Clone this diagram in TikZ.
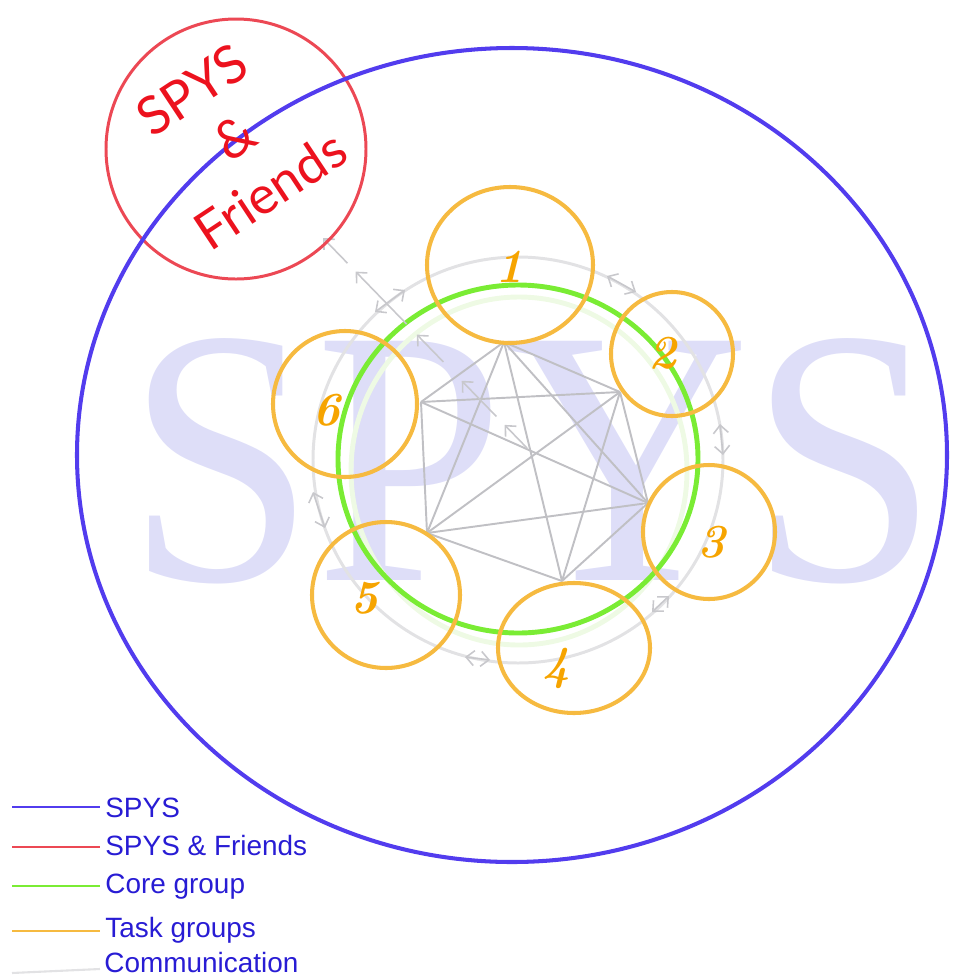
\documentclass[tikz,border=0pt]{standalone}
\usepackage{fontspec}
\usepackage{tikz}
\usetikzlibrary{calc,arrows.meta}
\newfontfamily\legendfont{Liberation Sans}
\newfontfamily\friendsfont{Lato}
\newfontfamily\markfont{Liberation Serif}
\definecolor{spysblue}{RGB}{82,60,238}
\definecolor{friendred}{RGB}{236,72,84}
\definecolor{friendtext}{RGB}{236,18,30}
\definecolor{coregreen}{RGB}{122,236,52}
\definecolor{faintgreen}{RGB}{238,250,228}
\definecolor{taskorange}{RGB}{246,186,64}
\definecolor{digitorange}{RGB}{246,164,0}
\definecolor{linkgray}{RGB}{192,192,196}
\definecolor{commgray}{RGB}{200,200,204}
\definecolor{ringgray}{RGB}{226,226,228}
\definecolor{markblue}{RGB}{222,222,248}
\definecolor{legendblue}{RGB}{40,28,212}
\tikzset{>={Straight Barb[length=1.6mm,width=3mm]}}

\begin{document}
\begin{tikzpicture}[x=0.02cm,y=-0.02cm,
      % define styles
      spys/.style={draw=spysblue,line width=2.3pt},
      friends/.style={draw=friendred,line width=1.7pt},
      core/.style={draw=coregreen,line width=2.8pt},
      task/.style={draw=taskorange,line width=2.3pt},
      link/.style={draw=linkgray,line width=1.1pt},
      comm/.style={draw=commgray,line width=0.9pt},
      digit/.style={text=digitorange,font=\fontsize{27pt}{27pt}\selectfont\bfseries\itshape},
      redtext/.style={text=friendtext,rotate=33.5,inner sep=0,
           font=\friendsfont\fontsize{30pt}{30pt}\selectfont},
      keytext/.style={text=legendblue,anchor=base west,inner sep=0,
           font=\legendfont\fontsize{15.9pt}{15.9pt}\selectfont},
      keyline/.style={line width=1.2pt}
  ]
  \useasboundingbox (0,0) rectangle (954,978);
  % Watermark
  \node[inner sep=0,anchor=base west,text=markblue] (mark) at (126,580)
      {\markfont\fontsize{208pt}{208pt}\selectfont\scalebox{0.93}[1]{SPYS}};
  % Communication ring and core group
  \coordinate (ring) at (518,460);
  \draw[draw=ringgray,line width=1.7pt] (ring) ellipse [x radius=205, y radius=203];
  \draw[draw=faintgreen,line width=2.8pt] (519,471) ellipse [x radius=168, y radius=174];
  \draw[core] (518,459) ellipse [x radius=180, y radius=174];
  % Links inside the core group
  \foreach \n/\x/\y in {1/504/342, 2/620/392, 3/648/503, 4/562/581, 5/427/533, 6/421/402}
      \coordinate (v\n) at (\x,\y);
  \foreach \a/\b in {1/2,1/3,1/4,1/5,1/6,2/3,2/4,2/5,2/6,3/4,3/5,3/6,4/5,5/6}
      \draw[link] (v\a) -- (v\b);
  % Communication between task groups
  \foreach \i/\ax/\ay/\bx/\by in {1/607/276/636/292, 2/720/424/723/455, 3/669/596/652/612,
      4/465/657/490/660, 5/313/492/325/528, 6/375/312/405/290} {
      \coordinate (a\i) at (\ax,\ay);
      \coordinate (b\i) at (\bx,\by);
      \draw[comm,<->] (a\i) -- (b\i);
  }
  % Way out to the friends
  \coordinate (hub) at (527,448);
  \coordinate (out) at (323,238);
  \foreach \s/\e in {0/0.11,0.15/0.32,0.41/0.54,0.59/0.84,0.88/1}
      \draw[comm,->] ($(hub)!\s!(out)$) -- ($(hub)!\e!(out)$);
  % Task groups
  \foreach \n/\x/\y/\rx/\ry/\tx/\ty in {1/510/265/83/78/510/267, 2/672/354/61/62/663/353,
      3/709/532/66/67/712/542, 4/574/648/76/65/557/668, 5/386/595/74/73/365/598,
      6/345/404/72/73/327/410} {
      \coordinate (g\n) at (\x,\y);
      \draw[task] (g\n) ellipse [x radius=\rx, y radius=\ry];
      \node[digit] (n\n) at (\tx,\ty) {\n};
  }
  % SPYS & Friends
  \coordinate (fr) at (236,149);
  \draw[friends] (fr) circle [radius=130];
  % SPYS
  \draw[spys] (512,455) ellipse [x radius=435, y radius=407];
  \node[redtext] (t1) at (192,90) {SPYS};
  \node[redtext] (t2) at (235,137) {\&};
  \node[redtext] (t3) at (270,190) {Friends};
  % Legend
  \foreach \i/\c/\y/\b/\t in {1/spysblue/807/817/SPYS, 2/friendred/847/855/SPYS \& Friends,
      3/coregreen/886/893/Core group, 4/taskorange/931/937/Task groups} {
      \coordinate (k\i) at (12,\y);
      \draw[keyline,draw=\c] (k\i) -- ++(88,0);
      \node[keytext] (l\i) at (105,\b) {\t};
  }
  \coordinate (k5) at (12,973);
  \draw[keyline,draw=ringgray] (k5) -- ++(88,-4);
  \node[keytext] (l5) at (104,972) {Communication};
\end{tikzpicture}
\end{document}
